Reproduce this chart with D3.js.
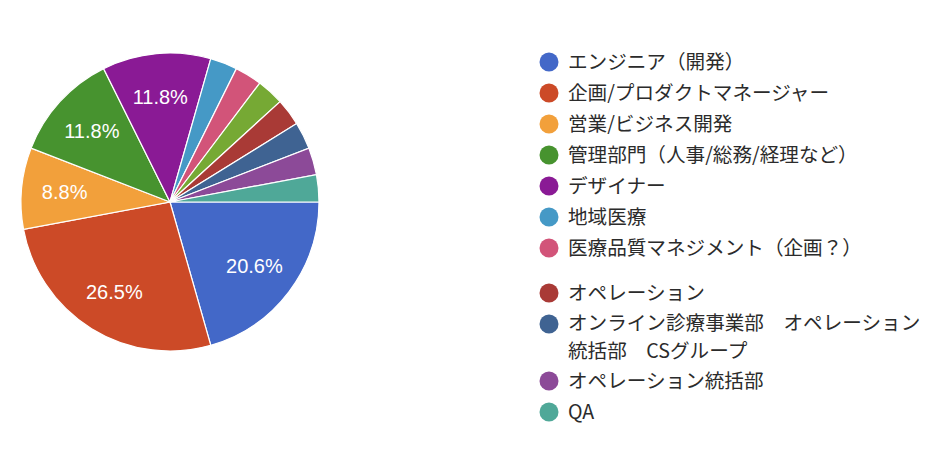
<!DOCTYPE html>
<html><head><meta charset="utf-8">
<script src="https://cdn.jsdelivr.net/npm/d3@7"></script>
<style>body{margin:0;background:#fff}svg{display:block}</style>
</head><body>
<svg id="c" width="950" height="472"></svg>
<script>
const categories = [
  "エンジニア（開発）",
  "企画/プロダクトマネージャー",
  "営業/ビジネス開発",
  "管理部門（人事/総務/経理など）",
  "デザイナー",
  "地域医療",
  "医療品質マネジメント（企画？）",
  "",
  "オペレーション",
  "オンライン診療事業部　オペレーション統括部　CSグループ",
  "オペレーション統括部",
  "QA"
];
const counts = [7, 9, 3, 4, 4, 1, 1, 1, 1, 1, 1, 1];
const colors = ["#4368c8","#cc4a27","#f2a03b","#47932f","#8a1a95","#4599c6","#d25479","#76a934","#a93a36","#3f6392","#8c4a98","#4fa898"];

const svg = d3.select("#c");
const cx = 170, cy = 202, r = 149;
const total = d3.sum(counts);
const data = categories.map((c,i)=>({c, v:counts[i], col:colors[i]}));
const pie = d3.pie().value(d=>d.v).sort(null).startAngle(Math.PI/2).endAngle(Math.PI/2+2*Math.PI);
const arcs = pie(data);
const arc = d3.arc().innerRadius(0).outerRadius(r);
const labelArc = d3.arc().innerRadius(r*0.71).outerRadius(r*0.71);
const g = svg.append("g").attr("transform",`translate(${cx},${cy})`);
g.selectAll("path").data(arcs).join("path")
  .attr("d",arc).attr("fill",d=>d.data.col).attr("stroke","#fff").attr("stroke-width",1.2);
const fmt = v => (v/total*100).toFixed(1)+"%";
g.selectAll("text").data(arcs.filter(d=>d.data.v/total>0.05)).join("text")
  .attr("transform",d=>`translate(${labelArc.centroid(d)})`)
  .attr("text-anchor","middle").attr("dy","0.36em")
  .attr("fill","#fff").attr("font-family","Liberation Sans, Arial, sans-serif").attr("font-size",20)
  .text(d=>fmt(d.data.v));

// legend
const lg = svg.append("g");
const fs = 19.6;
const lx = 549, tx = 568, maxW = 362, step = 31, lineH = 26, emptyH = 14;
let y = 62;
data.forEach((d)=>{
  if(d.c===""){ y += emptyH; return; }
  lg.append("circle").attr("cx",lx).attr("cy",y).attr("r",9.5).attr("fill",d.col);
  const chars = Array.from(d.c);
  let lines = [], cur = "";
  const probe = lg.append("text").attr("font-family","Noto Sans CJK JP, sans-serif").attr("font-size",fs);
  chars.forEach(ch=>{
    probe.text(cur+ch);
    if(probe.node().getComputedTextLength()>maxW && cur){ lines.push(cur); cur = ch; }
    else cur += ch;
  });
  lines.push(cur);
  probe.remove();
  const n = lines.length;
  const spread = n > 1 ? 1 : 0; // keep glyph boxes apart
  lines.forEach((ln,k)=>{
    const yy = y + k*lineH + (k===0 ? -spread : spread);
    lg.append("text").attr("x",tx).attr("y",yy).attr("dy","0.36em")
      .attr("font-family","Noto Sans CJK JP, sans-serif").attr("font-size",fs).attr("fill","#2b2b2b")
      .text(ln);
  });
  y += step + (n-1)*lineH;
});
</script>
</body></html>
